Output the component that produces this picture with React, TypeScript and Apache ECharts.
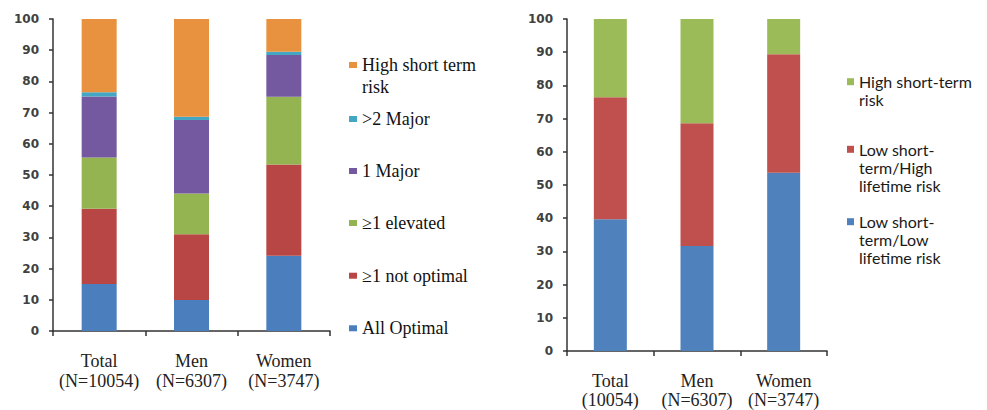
import React, { useEffect, useRef } from "react";
import * as echarts from "echarts";

const leftCategories = ["Total\n(N=10054)", "Men\n(N=6307)", "Women\n(N=3747)"];
const rightCategories = ["Total\n(10054)", "Men\n(N=6307)", "Women\n(N=3747)"];

// Left chart: stacked from bottom
const allOptimal = [15.1, 9.9, 24.1];
const notOptimal = [24.1, 21.1, 29.3];
const elevated = [16.4, 13.1, 21.7];
const oneMajor = [19.6, 23.5, 13.4];
const twoMajor = [1.3, 1.1, 1.0];
const highShortLeft = [23.5, 31.3, 10.5];

// Right chart: stacked from bottom
const lowLow = [39.7, 31.6, 53.7];
const lowHigh = [36.7, 37.0, 35.7];
const highShortRight = [23.6, 31.4, 10.6];

const yTicks = { min: 0, max: 100, interval: 10 };

const leftNames = [
  "High short term risk",
  ">2 Major",
  "1 Major",
  "≥1 elevated",
  "≥1 not optimal",
  "All Optimal",
];
const leftLegendLabels = [
  "High short term\nrisk",
  ">2 Major",
  "1 Major",
  "≥1 elevated",
  "≥1 not optimal",
  "All Optimal",
];
const rightNames = [
  "High short-term risk",
  "Low short-term/High lifetime risk",
  "Low short-term/Low lifetime risk",
];
const rightLegendLabels = [
  "High short-term\nrisk",
  "Low short-\nterm/High\nlifetime risk",
  "Low short-\nterm/Low\nlifetime risk",
];

const L = {
  blue: "#4A7EBD",
  red: "#B84644",
  green: "#93B451",
  purple: "#7459A0",
  cyan: "#43A7C4",
  orange: "#E8923F",
};
const R = {
  blue: "#4F81BD",
  red: "#C0504D",
  green: "#9BBB59",
};

export default function App() {
  const ref = useRef<HTMLDivElement>(null);

  useEffect(() => {
    document.body.style.margin = "0";
    if (!ref.current) return;
    const chart = echarts.init(ref.current, null, { renderer: "svg" });

    const leftColors = [L.orange, L.cyan, L.purple, L.green, L.red, L.blue];
    const leftCenters = [65, 119, 171, 223, 275.7, 328.3];
    const leftLH = 22;
    const rightColors = [R.green, R.red, R.blue];
    const rightCenters = [81.7, 149.3, 221.7];
    const rightLH = 18;

    // pad with leading empty lines so that the first line sits on the icon
    const padLabel = (s: string) => {
      const n = s.split("\n").length;
      return "\n".repeat(n - 1) + s;
    };

    const legends: any[] = [];
    leftNames.forEach((n, i) => {
      const lines = leftLegendLabels[i].split("\n").length;
      const h = (2 * lines - 1) * leftLH;
      legends.push({
        data: [n],
        left: 349,
        top: leftCenters[i] - h / 2,
        padding: 0,
        icon: "rect",
        itemWidth: 8,
        itemHeight: 6,
        selectedMode: false,
        formatter: () => padLabel(leftLegendLabels[i]),
        textStyle: {
          fontFamily: "Liberation Serif",
          fontSize: 18,
          lineHeight: leftLH,
          color: "#111",
        },
      });
    });
    rightNames.forEach((n, i) => {
      const lines = rightLegendLabels[i].split("\n").length;
      const h = (2 * lines - 1) * rightLH;
      legends.push({
        data: [n],
        left: 847,
        top: rightCenters[i] - h / 2,
        padding: 0,
        icon: "rect",
        itemWidth: 7,
        itemHeight: 7,
        selectedMode: false,
        formatter: () => padLabel(rightLegendLabels[i]),
        textStyle: {
          fontFamily: "Lato",
          fontSize: 16,
          lineHeight: rightLH,
          color: "#1a1a1a",
        },
      });
    });

    const axisLine = { show: true, lineStyle: { color: "#333", width: 1.5 } };
    const yAxisCommon = {
      type: "value",
      ...yTicks,
      axisLine,
      axisTick: { show: true, length: 4, lineStyle: { color: "#333", width: 1.5 } },
      splitLine: { show: false },
      axisLabel: {
        margin: 14,
        fontFamily: "DejaVu Sans",
        fontWeight: "bold",
        fontSize: 12,
        color: "#404040",
      },
    };
    const xAxisCommon = {
      type: "category",
      axisLine,
      axisTick: { show: true, length: 5, lineStyle: { color: "#333", width: 1.5 } },
      axisLabel: {
        margin: 20,
        interval: 0,
        hideOverlap: false,
        fontFamily: "Liberation Serif",
        fontSize: 18,
        color: "#222",
      },
    };

    const leftData = [allOptimal, notOptimal, elevated, oneMajor, twoMajor, highShortLeft];
    const leftStackNames = [...leftNames].reverse();
    const leftStackColors = [...leftColors].reverse();
    const rightData = [lowLow, lowHigh, highShortRight];
    const rightStackNames = [...rightNames].reverse();
    const rightStackColors = [...rightColors].reverse();

    const series: any[] = [];
    leftData.forEach((d, i) => {
      series.push({
        type: "bar",
        name: leftStackNames[i],
        stack: "L",
        xAxisIndex: 0,
        yAxisIndex: 0,
        barWidth: 35,
        data: d,
        itemStyle: { color: leftStackColors[i] },
      });
    });
    rightData.forEach((d, i) => {
      series.push({
        type: "bar",
        name: rightStackNames[i],
        stack: "R",
        xAxisIndex: 1,
        yAxisIndex: 1,
        barWidth: 33,
        data: d,
        itemStyle: { color: rightStackColors[i] },
      });
    });

    chart.setOption({
      animation: false,
      backgroundColor: "#fff",
      textStyle: { fontFamily: "Liberation Serif" },
      grid: [
        { left: 53, top: 19, width: 277, height: 312 },
        { left: 567, top: 19, width: 260, height: 332 },
      ],
      xAxis: [
        {
          ...xAxisCommon,
          gridIndex: 0,
          data: leftCategories,
          axisLabel: { ...xAxisCommon.axisLabel, lineHeight: 20 },
        },
        {
          ...xAxisCommon,
          gridIndex: 1,
          data: rightCategories,
          axisLabel: { ...xAxisCommon.axisLabel, lineHeight: 19 },
        },
      ],
      yAxis: [
        { ...yAxisCommon, gridIndex: 0 },
        { ...yAxisCommon, gridIndex: 1 },
      ],
      legend: legends,
      series,
    });

    return () => chart.dispose();
  }, []);

  return <div ref={ref} style={{ width: 987, height: 410 }} />;
}
